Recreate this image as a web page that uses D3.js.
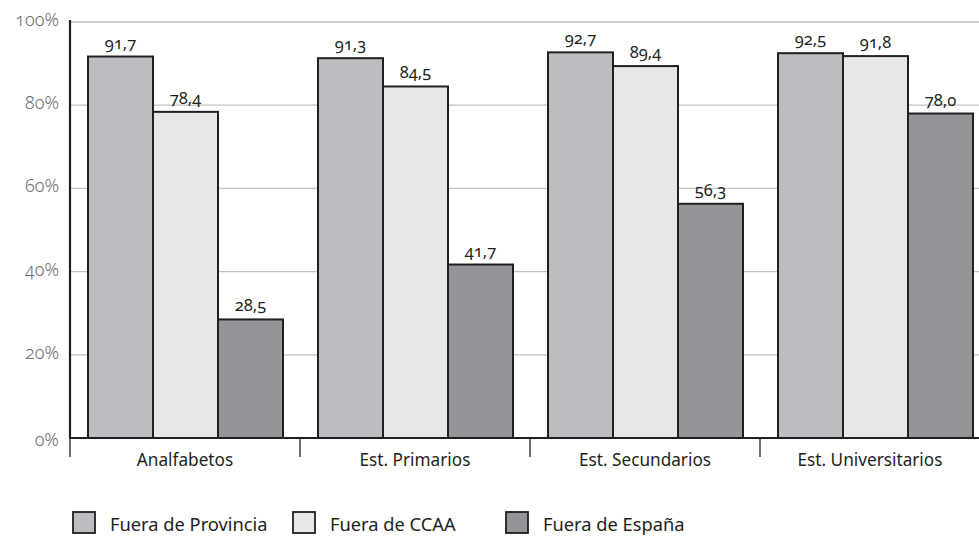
<!DOCTYPE html>
<html>
<head>
<meta charset="utf-8">
<script src="https://cdn.jsdelivr.net/npm/d3@7"></script>
<style>
  html, body { margin: 0; padding: 0; background: #fff; }
  svg { display: block; font-family: "Noto Sans", "Open Sans", sans-serif; font-variant-numeric: oldstyle-nums; font-feature-settings: "onum" 1; }
</style>
</head>
<body>
<svg id="chart" width="979" height="538"></svg>
<script>
// Education levels shown along the x axis
const categories = ["Analfabetos", "Est. Primarios", "Est. Secundarios", "Est. Universitarios"];
const seriesNames = ["Fuera de Provincia", "Fuera de CCAA", "Fuera de España"];
const fueraProvincia = [91.7, 91.3, 92.7, 92.5];
const fueraCCAA = [78.4, 84.5, 89.4, 91.8];
const fueraEspana = [28.5, 41.7, 56.3, 78.0];
const yTicks = [0, 20, 40, 60, 80, 100];

const seriesValues = [fueraProvincia, fueraCCAA, fueraEspana];
const colors = ["#bcbdc0", "#e6e7e8", "#939598"];
const ink = "#231f20";

const svg = d3.select("#chart");
const plotLeft = 70, plotRight = 990, plotTop = 22, plotBottom = 438;

const x = d3.scaleBand().domain(categories).range([plotLeft, plotRight]).paddingInner(0).paddingOuter(0);
const x1 = d3.scaleBand().domain(seriesNames).range([18, x.bandwidth() - 17]).padding(0);
const y = d3.scaleLinear().domain([0, 100]).range([plotBottom, plotTop]);

const fmt = v => v.toFixed(1).replace(".", ",");

// horizontal gridlines
svg.append("g").selectAll("line").data(yTicks.filter(t => t > 0)).join("line")
  .attr("x1", plotLeft).attr("x2", 979)
  .attr("y1", d => y(d)).attr("y2", d => y(d))
  .attr("stroke", "#c2c2c2").attr("stroke-width", 1.3);

// y tick labels
svg.append("g").selectAll("text").data(yTicks).join("text")
  .attr("x", 59).attr("y", d => y(d) + (d === 0 ? 8 : 4))
  .attr("text-anchor", "end")
  .attr("fill", "#6d6e71").attr("font-size", 18).attr("font-weight", 300)
  .text(d => d + "%");

// bars
const groups = svg.append("g").selectAll("g").data(categories).join("g")
  .attr("transform", d => `translate(${x(d)},0)`);

groups.selectAll("rect").data((c, i) => seriesNames.map((s, j) => ({ s, v: seriesValues[j][i], j })))
  .join("rect")
  .attr("x", d => x1(d.s))
  .attr("y", d => y(d.v))
  .attr("width", x1.bandwidth())
  .attr("height", d => y(0) - y(d.v))
  .attr("fill", d => colors[d.j])
  .attr("stroke", ink).attr("stroke-width", 2);

// value labels
groups.selectAll("text").data((c, i) => seriesNames.map((s, j) => ({ s, v: seriesValues[j][i], j })))
  .join("text")
  .attr("x", d => x1(d.s) + x1.bandwidth() / 2)
  .attr("y", d => y(d.v) - 8)
  .attr("text-anchor", "middle")
  .attr("fill", ink).attr("font-size", 16.5)
  .text(d => fmt(d.v));

// axes
svg.append("line").attr("x1", plotLeft).attr("x2", plotLeft).attr("y1", plotTop - 2).attr("y2", plotBottom + 1)
  .attr("stroke", ink).attr("stroke-width", 2.2);
svg.append("line").attr("x1", plotLeft).attr("x2", 979).attr("y1", plotBottom).attr("y2", plotBottom)
  .attr("stroke", ink).attr("stroke-width", 2.2);

// category separators below the axis
svg.append("g").selectAll("line").data(categories).join("line")
  .attr("x1", d => x(d)).attr("x2", d => x(d))
  .attr("y1", plotBottom).attr("y2", plotBottom + 19)
  .attr("stroke", ink).attr("stroke-width", 1.3);

// category labels
svg.append("g").selectAll("text").data(categories).join("text")
  .attr("x", d => x(d) + x.bandwidth() / 2 - (d === categories[3] ? 5 : 0))
  .attr("y", 466)
  .attr("text-anchor", "middle")
  .attr("fill", ink).attr("font-size", 17.2)
  .text(d => d);

// legend
const legendX = [73, 293, 506];
const legend = svg.append("g").selectAll("g").data(seriesNames).join("g")
  .attr("transform", (d, i) => `translate(${legendX[i]},512)`);
legend.append("rect").attr("width", 22).attr("height", 21)
  .attr("fill", (d, i) => colors[i]).attr("stroke", ink).attr("stroke-width", 1.8);
legend.append("text").attr("x", 37).attr("y", 18.5)
  .attr("fill", ink).attr("font-size", 18.3)
  .text(d => d);
</script>
</body>
</html>
